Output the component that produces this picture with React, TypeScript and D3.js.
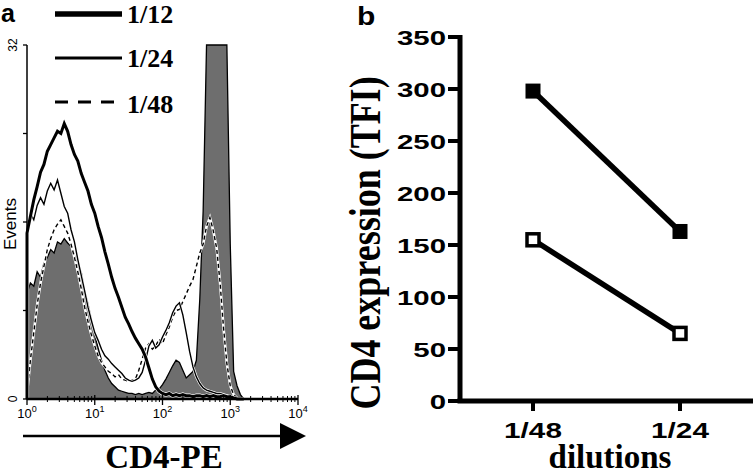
import React from "react";
import * as d3 from "d3";

// ---------- Panel a: flow histograms (x in log10 units, step 0.05 from 10^0) ----------
const binStep = 0.05;
const grayRef = [9.5,10.5,10.2,11.5,11.0,12.3,12.8,13.5,13.2,14.2,14.0,14.5,14.1,13.8,13.0,12.0,11.5,9.8,8.6,7.2,5.8,4.6,3.5,2.6,1.9,1.4,1.1,0.8,0.7,0.6,0.5,0.5,0.4,0.5,0.4,0.5,0.6,0.5,0.8,0.9,1.3,1.8,2.4,3.0,3.5,3.3,2.6,1.9,2.2,2.5,3.5,9,17,32,32,32,32,32,32,32,14,2.5,1.2,0.4,0];
const dil48 = [0.5,3.5,6.0,8.5,10.5,12.0,13.5,14.5,15.3,15.8,16.2,15.6,15.0,14.0,12.8,11.5,10.0,8.3,7.0,5.8,4.8,3.9,3.3,2.9,2.5,2.3,2.0,2.2,1.8,1.7,1.6,1.7,1.8,2.6,3.6,4.6,5.0,4.5,4.8,5.4,5.0,5.8,6.5,7.4,8.0,8.1,8.8,9.5,10.2,10.8,12.0,13.2,14.0,15.6,16.4,15.2,13.6,10.5,6.5,3.2,1.2,0.4,0.1,0,0];
const dil24 = [15.5,16.8,16.2,17.5,18.2,17.6,18.8,19.5,18.9,19.8,18.6,17.4,16.8,15.3,14.2,12.6,11.2,9.8,8.3,7.1,6.0,5.3,4.5,3.9,3.6,3.2,2.9,2.6,2.3,1.9,1.7,1.6,1.7,1.9,2.4,3.5,4.8,5.3,4.6,4.9,5.6,6.2,6.9,7.8,8.4,8.7,7.6,6.0,4.3,2.9,2.0,1.4,1.0,0.8,0.7,0.6,0.5,0.5,0.4,0.3,0.2,0.1,0,0,0];
const dil12 = [15.0,16.5,18.0,19.2,20.5,21.2,22.4,23.0,23.6,24.2,24.0,24.9,24.2,23.0,22.1,21.5,20.4,19.6,18.8,17.6,16.8,15.6,14.6,13.3,12.2,11.0,10.0,9.2,8.3,7.4,6.8,6.1,5.5,5.0,4.5,3.8,2.8,1.8,1.1,0.7,0.5,0.4,0.5,0.3,0.4,0.3,0.4,0.3,0.3,0.2,0.3,0.3,0.2,0.3,0.2,0.3,0.2,0.2,0.3,0.2,0.2,0.1,0,0,0];
const legendLabels = ["1/12", "1/24", "1/48"];
const decades = [0, 1, 2, 3, 4];
const eventTicks = [0, 8, 16, 24, 32];

// ---------- Panel b ----------
const dilutionCats = ["1/48", "1/24"];
const filledSeries = [298, 163];
const openSeries = [155, 65];
const yTicksB = [0, 50, 100, 150, 200, 250, 300, 350];

const SANS = "'Liberation Sans', Arial, sans-serif";
const SERIF = "'Liberation Serif', 'Times New Roman', serif";

export default function App() {
  // Panel a scales
  const xA = d3.scaleLog().domain([1, 10000]).range([27, 298]);
  const yA = d3.scaleLinear().domain([0, 32]).range([399, 45]);
  const toPts = (arr: number[]) => arr.map((v, i) => ({ b: i * binStep, v }));
  const area = d3.area<{ b: number; v: number }>()
    .x((d) => xA(Math.pow(10, d.b)))
    .y0(yA(0))
    .y1((d) => yA(d.v));
  const line = d3.line<{ b: number; v: number }>()
    .x((d) => xA(Math.pow(10, d.b)))
    .y((d) => yA(d.v));
  const withStart = (arr: number[]) => [{ b: 0, v: 0 }, ...toPts(arr)];

  const minorTicks: number[] = [];
  for (let k = 0; k < 4; k++) for (let m = 2; m <= 9; m++) minorTicks.push(m * Math.pow(10, k));

  // Panel b scales
  const xB = d3.scalePoint<string>().domain(dilutionCats).range([533, 680]);
  const yB = d3.scaleLinear().domain([0, 350]).range([401, 37]);
  const bLine = d3.line<number>().x((_, i) => xB(dilutionCats[i])!).y((v) => yB(v));

  const legendY = [14, 58, 102];
  const legendTextY = [23, 67, 113];

  return (
    <svg width={753} height={476} style={{ position: "absolute", left: 0, top: 0, background: "#fff" }}>
      <rect x={0} y={0} width={753} height={476} fill="#fff" />
      {/* ================= Panel a ================= */}
      <text x={1} y={22} fontFamily={SANS} fontWeight="bold" fontSize={25}>a</text>

      {/* histograms */}
      <path d={area(toPts(grayRef)) || ""} fill="#6e6e6e" stroke="#000" strokeWidth={1.3} />
      <path d={line(withStart(dil48)) || ""} fill="none" stroke="#fff" strokeWidth={2.6} />
      <path d={line(withStart(dil48)) || ""} fill="none" stroke="#000" strokeWidth={1.4} strokeDasharray="4,3" />
      <path d={line(withStart(dil24)) || ""} fill="none" stroke="#fff" strokeWidth={2.8} />
      <path d={line(withStart(dil24)) || ""} fill="none" stroke="#000" strokeWidth={1.4} />
      <path d={line(withStart(dil12)) || ""} fill="none" stroke="#fff" strokeWidth={4.2} />
      <path d={line(withStart(dil12)) || ""} fill="none" stroke="#000" strokeWidth={3} />

      {/* y axis a */}
      <line x1={27} x2={27} y1={yA(32)} y2={yA(0)} stroke="#000" strokeWidth={1.5} />
      {eventTicks.map((t) => (
        <line key={t} x1={23} x2={27} y1={yA(t)} y2={yA(t)} stroke="#000" strokeWidth={1.3} />
      ))}
      {[0, 32].map((t) => (
        <text key={t} transform={`translate(17,${yA(t)}) rotate(-90)`} textAnchor="middle"
          fontFamily={SANS} fontSize={12}>{t}</text>
      ))}
      <text transform={`translate(16,224) rotate(-90)`} textAnchor="middle" fontFamily={SANS} fontSize={17}>Events</text>

      {/* x axis a */}
      <line x1={27} x2={298} y1={399} y2={399} stroke="#000" strokeWidth={2.5} />
      {minorTicks.map((t, i) => (
        <line key={i} x1={xA(t)} x2={xA(t)} y1={396} y2={402} stroke="#000" strokeWidth={1} />
      ))}
      {decades.map((k) => (
        <g key={k}>
          <line x1={xA(Math.pow(10, k))} x2={xA(Math.pow(10, k))} y1={395} y2={405} stroke="#000" strokeWidth={1.3} />
          <text x={xA(Math.pow(10, k))} y={418} textAnchor="middle" fontFamily={SANS} fontSize={13}>
            10<tspan fontSize={9} dy={-6}>{k}</tspan>
          </text>
        </g>
      ))}
      {/* arrow */}
      <line x1={23} x2={284} y1={436} y2={436} stroke="#000" strokeWidth={2.6} />
      <path d="M280,423 L306,436 L280,449 Z" fill="#000" />
      <text x={164} y={468} textAnchor="middle" fontFamily={SERIF} fontWeight="bold" fontSize={33}>CD4-PE</text>

      {/* legend */}
      {legendLabels.map((lab, i) => (
        <g key={lab}>
          <line x1={55} x2={122} y1={legendY[i]} y2={legendY[i]} stroke="#000"
            strokeWidth={i === 0 ? 5.5 : 2.8} strokeDasharray={i === 2 ? "13,10" : undefined} />
          <text x={127} y={legendTextY[i]} fontFamily={SERIF} fontWeight="bold" fontSize={26}>{lab}</text>
        </g>
      ))}

      {/* ================= Panel b ================= */}
      <text transform="translate(357,25) scale(1.2,1)" fontFamily={SANS} fontWeight="bold" fontSize={25}>b</text>
      <text transform={`translate(380,243) scale(1.25,1) rotate(-90)`} textAnchor="middle"
        fontFamily={SERIF} fontWeight="bold" fontSize={36}>CD4 expression (TFI)</text>

      {/* axes b */}
      <line x1={460} x2={460} y1={yB(350) - 2} y2={403} stroke="#000" strokeWidth={5} />
      <line x1={457.5} x2={753} y1={401} y2={401} stroke="#000" strokeWidth={5} />
      {yTicksB.map((t) => (
        <g key={t}>
          <line x1={448} x2={460} y1={yB(t)} y2={yB(t)} stroke="#000" strokeWidth={4} />
          <text transform={`translate(446,${yB(t) + 7.5}) scale(1.4,1)`} textAnchor="end"
            fontFamily={SANS} fontWeight="bold" fontSize={21}>{t}</text>
        </g>
      ))}
      {dilutionCats.map((c) => (
        <g key={c}>
          <line x1={xB(c)} x2={xB(c)} y1={401} y2={411} stroke="#000" strokeWidth={4} />
          <text transform={`translate(${xB(c)},438) scale(1.35,1)`} textAnchor="middle"
            fontFamily={SANS} fontWeight="bold" fontSize={22}>{c}</text>
        </g>
      ))}
      <text x={610} y={468} textAnchor="middle" fontFamily={SERIF} fontWeight="bold" fontSize={33}>dilutions</text>

      {/* series */}
      <path d={bLine(filledSeries) || ""} fill="none" stroke="#000" strokeWidth={5.5} />
      <path d={bLine(openSeries) || ""} fill="none" stroke="#000" strokeWidth={5.5} />
      {filledSeries.map((v, i) => (
        <rect key={"f" + i} x={xB(dilutionCats[i])! - 7.5} y={yB(v) - 7.5} width={15} height={15} fill="#000" />
      ))}
      {openSeries.map((v, i) => (
        <rect key={"o" + i} x={xB(dilutionCats[i])! - 6} y={yB(v) - 6} width={12} height={12}
          fill="#fff" stroke="#000" strokeWidth={3.5} />
      ))}
    </svg>
  );
}
